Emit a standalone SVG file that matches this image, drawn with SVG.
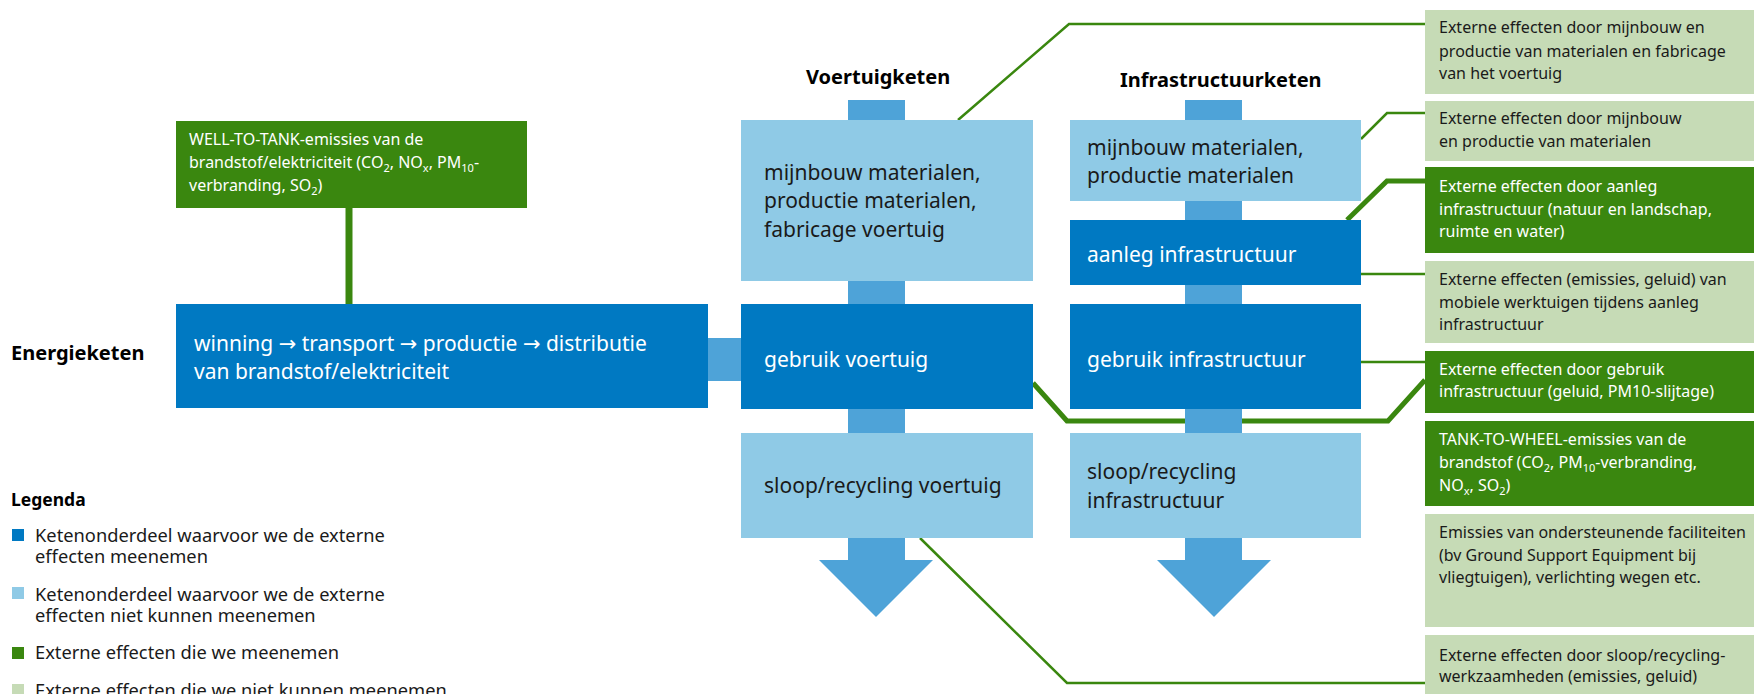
<svg xmlns="http://www.w3.org/2000/svg" width="1754" height="694" viewBox="0 0 1754 694">
<style>
text{font-family:"Noto Sans","Open Sans","DejaVu Sans",sans-serif;fill:#1a1a1a}
.t21{font-size:21px}
.t16{font-size:16px}
.t18{font-size:18.3px}
.title{font-size:20px;font-weight:bold;fill:#000}
.w{fill:#fff}
.db{fill:#0079c2}
.lb{fill:#8fcae6}
.mb{fill:#4ea3d8}
.dg{fill:#3a870f}
.lg{fill:#c6dbb6}
.ln{fill:none;stroke:#3a870f;stroke-width:2.5}
.th{stroke-width:5}
.sub{font-size:11px}
</style>

<g id="connectors">
<line class="ln" x1="349" y1="208" x2="349" y2="304" style="stroke-width:7"/>
<polyline class="ln" points="958,120 1069,24 1425,24"/>
<polyline class="ln" points="1361,139 1387,113 1425,113"/>
<polyline class="ln th" points="1347,220 1387,181 1425,181"/>
<line class="ln" x1="1361" y1="274" x2="1425" y2="274"/>
<line class="ln" x1="1361" y1="362" x2="1425" y2="362"/>
<polyline class="ln th" points="1033,383 1067,421 1388,421 1425,380"/>
<polyline class="ln" points="920,538 1067,683 1425,683"/>
</g>

<g id="flow">
<rect class="mb" x="707" y="338" width="34" height="43"/>
<rect class="mb" x="848" y="100" width="57" height="20"/>
<rect class="mb" x="848" y="281" width="57" height="23"/>
<rect class="mb" x="848" y="409" width="57" height="24"/>
<polygon class="mb" points="848,538 905,538 905,560 933,560 876,617 819,560 848,560"/>
<rect class="mb" x="1185" y="100" width="57" height="20"/>
<rect class="mb" x="1185" y="201" width="57" height="19"/>
<rect class="mb" x="1185" y="285" width="57" height="19"/>
<rect class="mb" x="1185" y="409" width="57" height="24"/>
<polygon class="mb" points="1185,538 1242,538 1242,560 1271,560 1214,617 1157,560 1185,560"/>
</g>

<g id="energieketen-label">
<text class="title" x="11" y="360">Energieketen</text>
</g>
<g id="voertuigketen-label">
<text class="title" x="806" y="84">Voertuigketen</text>
</g>
<g id="infrastructuurketen-label">
<text class="title" x="1120" y="87">Infrastructuurketen</text>
</g>

<g id="wtt">
<rect class="dg" x="176" y="121" width="351" height="87"/>
<text class="t16 w" x="189" y="145">WELL-TO-TANK-emissies van de</text>
<text class="t16 w" x="189" y="168">brandstof/elektriciteit  (CO<tspan class="sub" dy="4">2</tspan><tspan dy="-4">, NO</tspan><tspan class="sub" dy="4">x</tspan><tspan dy="-4">, PM</tspan><tspan class="sub" dy="4">10</tspan><tspan dy="-4">-</tspan></text>
<text class="t16 w" x="189" y="191">verbranding, SO<tspan class="sub" dy="4">2</tspan><tspan dy="-4">)</tspan></text>
</g>

<g id="energie">
<rect class="db" x="176" y="304" width="532" height="104"/>
<text class="t21 w" x="194" y="351">winning → transport → productie → distributie</text>
<text class="t21 w" x="194" y="379">van brandstof/elektriciteit</text>
</g>

<g id="v-mijnbouw">
<rect class="lb" x="741" y="120" width="292" height="161"/>
<text class="t21" x="764" y="180">mijnbouw materialen,</text>
<text class="t21" x="764" y="208">productie materialen,</text>
<text class="t21" x="764" y="237">fabricage voertuig</text>
</g>
<g id="v-gebruik">
<rect class="db" x="741" y="304" width="292" height="105"/>
<text class="t21 w" x="764" y="367">gebruik voertuig</text>
</g>
<g id="v-sloop">
<rect class="lb" x="741" y="433" width="292" height="105"/>
<text class="t21" x="764" y="493">sloop/recycling voertuig</text>
</g>

<g id="i-mijnbouw">
<rect class="lb" x="1070" y="120" width="291" height="81"/>
<text class="t21" x="1087" y="155">mijnbouw materialen,</text>
<text class="t21" x="1087" y="183">productie materialen</text>
</g>
<g id="i-aanleg">
<rect class="db" x="1070" y="220" width="291" height="65"/>
<text class="t21 w" x="1087" y="262">aanleg infrastructuur</text>
</g>
<g id="i-gebruik">
<rect class="db" x="1070" y="304" width="291" height="105"/>
<text class="t21 w" x="1087" y="367">gebruik infrastructuur</text>
</g>
<g id="i-sloop">
<rect class="lb" x="1070" y="433" width="291" height="105"/>
<text class="t21" x="1087" y="479">sloop/recycling</text>
<text class="t21" x="1087" y="508">infrastructuur</text>
</g>

<g id="r1">
<rect class="lg" x="1425" y="10" width="329" height="84"/>
<text class="t16" x="1439" y="33">Externe effecten door mijnbouw en</text>
<text class="t16" x="1439" y="57">productie van materialen en fabricage</text>
<text class="t16" x="1439" y="79">van het voertuig</text>
</g>
<g id="r2">
<rect class="lg" x="1425" y="101" width="329" height="60"/>
<text class="t16" x="1439" y="124">Externe effecten door mijnbouw</text>
<text class="t16" x="1439" y="147">en productie van materialen</text>
</g>
<g id="r3">
<rect class="dg" x="1425" y="167" width="329" height="86"/>
<text class="t16 w" x="1439" y="192">Externe effecten door aanleg</text>
<text class="t16 w" x="1439" y="215">infrastructuur (natuur en landschap,</text>
<text class="t16 w" x="1439" y="237">ruimte en water)</text>
</g>
<g id="r4">
<rect class="lg" x="1425" y="261" width="329" height="82"/>
<text class="t16" x="1439" y="285">Externe effecten (emissies, geluid) van</text>
<text class="t16" x="1439" y="308">mobiele werktuigen tijdens aanleg</text>
<text class="t16" x="1439" y="330">infrastructuur</text>
</g>
<g id="r5">
<rect class="dg" x="1425" y="351" width="329" height="62"/>
<text class="t16 w" x="1439" y="375">Externe effecten door gebruik</text>
<text class="t16 w" x="1439" y="397">infrastructuur (geluid, PM10-slijtage)</text>
</g>
<g id="r6">
<rect class="dg" x="1425" y="421" width="329" height="85"/>
<text class="t16 w" x="1439" y="445">TANK-TO-WHEEL-emissies van de</text>
<text class="t16 w" x="1439" y="468">brandstof (CO<tspan class="sub" dy="4">2</tspan><tspan dy="-4">, PM</tspan><tspan class="sub" dy="4">10</tspan><tspan dy="-4">-verbranding,</tspan></text>
<text class="t16 w" x="1439" y="491">NO<tspan class="sub" dy="4">x</tspan><tspan dy="-4">, SO</tspan><tspan class="sub" dy="4">2</tspan><tspan dy="-4">)</tspan></text>
</g>
<g id="r7">
<rect class="lg" x="1425" y="514" width="329" height="113"/>
<text class="t16" x="1439" y="538">Emissies van ondersteunende faciliteiten</text>
<text class="t16" x="1439" y="561">(bv Ground Support Equipment bij</text>
<text class="t16" x="1439" y="583">vliegtuigen), verlichting wegen etc.</text>
</g>
<g id="r8">
<rect class="lg" x="1425" y="635" width="329" height="59"/>
<text class="t16" x="1439" y="661">Externe effecten door sloop/recycling-</text>
<text class="t16" x="1439" y="682">werkzaamheden (emissies, geluid)</text>
</g>

<g id="legenda">
<text x="11" y="506" style="font-size:17.5px;font-weight:bold;fill:#000">Legenda</text>
<rect class="db" x="12" y="529" width="12" height="12"/>
<text class="t18" x="35" y="542">Ketenonderdeel waarvoor we de externe</text>
<text class="t18" x="35" y="563">effecten meenemen</text>
<rect class="lb" x="12" y="587" width="12" height="12"/>
<text class="t18" x="35" y="601">Ketenonderdeel waarvoor we de externe</text>
<text class="t18" x="35" y="622">effecten niet kunnen meenemen</text>
<rect class="dg" x="12" y="647" width="12" height="12"/>
<text class="t18" x="35" y="659">Externe effecten die we meenemen</text>
<rect class="lg" x="12" y="684" width="12" height="12"/>
<text class="t18" x="35" y="697">Externe effecten die we niet kunnen meenemen</text>
</g>
</svg>
